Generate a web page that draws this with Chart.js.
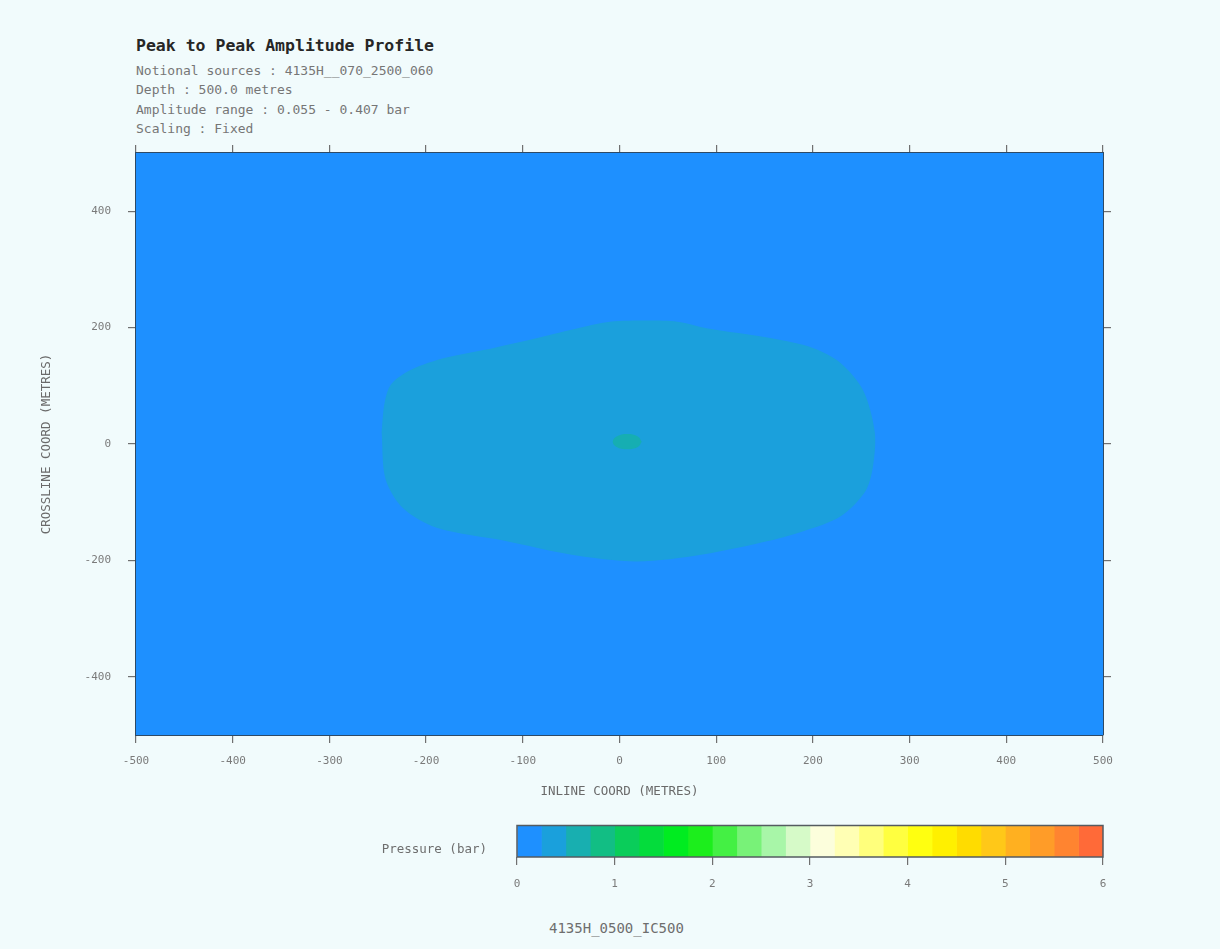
<!DOCTYPE html>
<html>
<head>
<meta charset="utf-8">
<script src="https://cdn.jsdelivr.net/npm/chart.js@4.4.1/dist/chart.umd.min.js"></script>
<style>
  html, body { margin: 0; padding: 0; background: #F1FBFC; }
  body { width: 1220px; height: 949px; position: relative; overflow: hidden; font-family: "DejaVu Sans Mono", monospace; }
  #main { position: absolute; left: 0; top: 0; }
  #cbar { position: absolute; left: 0; top: 788px; }
  .title { position: absolute; left: 136px; top: 37px; font-size: 16.5px; line-height: 18px; font-weight: bold; color: #262626; white-space: pre; }
  .sub { position: absolute; left: 136px; top: 61px; font-size: 13px; line-height: 19.4px; color: #767676; white-space: pre; }
  .foot { position: absolute; left: 549px; top: 919px; font-size: 14px; line-height: 18px; color: #6e6e6e; white-space: pre; }
</style>
</head>
<body>
<div class="title">Peak to Peak Amplitude Profile</div>
<div class="sub">Notional sources : 4135H__070_2500_060
Depth : 500.0 metres
Amplitude range : 0.055 - 0.407 bar
Scaling : Fixed</div>
<canvas id="main" width="1220" height="800"></canvas>
<canvas id="cbar" width="1220" height="112"></canvas>
<div class="foot">4135H_0500_IC500</div>
<script>
// ---- data ----
const inlineTicks = [-500, -400, -300, -200, -100, 0, 100, 200, 300, 400, 500];
const crosslineTicks = [-400, -200, 0, 200, 400];
const axisMin = -500;
const axisMax = 500;

// outline of the 0.25-0.5 bar amplitude zone (inline, crossline in metres)
const contourInline    = [-246, -243, -236, -215, -180, -130, -85, -40, -10, 30, 60, 90, 156, 200, 228, 252, 264, 262, 254, 228, 190, 156, 86, 18, -51, -120, -189, -224, -242, -246];
const contourCrossline = [20, 70, 103, 128, 148, 165, 182, 200, 210, 212, 210, 199, 182, 165, 140, 92, 20, -40, -82, -125, -150, -166, -190, -202, -190, -166, -144, -110, -60, 20];

// small central spot (0.5-0.75 bar)
const spotInline    = [23, 19, 8, -3, -7, -3, 8, 19, 23];
const spotCrossline = [4, 13, 17, 13, 4, -5, -9, -5, 4];

// colour bar
const pressureTicks = [0, 1, 2, 3, 4, 5, 6];
const bandEdges = [0, 0.25, 0.5, 0.75, 1, 1.25, 1.5, 1.75, 2, 2.25, 2.5, 2.75, 3, 3.25, 3.5, 3.75, 4, 4.25, 4.5, 4.75, 5, 5.25, 5.5, 5.75, 6];
const bandColors = ['#1E90FF', '#1AA0DC', '#18AFB0', '#12BE84', '#0ACD5A', '#04DC3C', '#00EC20', '#1CEE1C', '#44F044', '#78F278', '#A8F6A8', '#D6FAC8',
                    '#FCFEDC', '#FFFFB4', '#FFFF7C', '#FFFF40', '#FFFF10', '#FFF000', '#FFDC00', '#FFC818', '#FFB020', '#FF9C28', '#FF8430', '#FF6A38'];
const pressureLabel = 'Pressure (bar)';

// ---- helpers ----
const FONT = '"DejaVu Sans Mono", monospace';
const toPoints = (xs, ys) => xs.map((x, i) => ({ x: x, y: ys[i] }));
const setTicks = (vals) => (scale) => { scale.ticks = vals.map(v => ({ value: v })); };

const plotBg = {
  id: 'plotBg',
  beforeDatasetsDraw(chart) {
    const { ctx, chartArea: a } = chart;
    ctx.save();
    ctx.fillStyle = '#1E90FF';
    ctx.fillRect(a.left, a.top, a.right - a.left, a.bottom - a.top);
    ctx.restore();
  }
};

const edgeGrid = { drawOnChartArea: false, drawTicks: true, tickLength: 8, color: '#707070', lineWidth: 1.2 };
const edgeBorder = { display: true, color: '#2E4A66', width: 2 };
const tickFont = { family: FONT, size: 11 };

new Chart(document.getElementById('main'), {
  type: 'scatter',
  data: {
    datasets: [
      {
        data: toPoints(contourInline, contourCrossline),
        showLine: true, fill: 'shape', tension: 0.3, order: 2,
        borderWidth: 0, borderColor: 'rgba(0,0,0,0)',
        backgroundColor: '#1BA0DC', pointRadius: 0
      },
      {
        data: toPoints(spotInline, spotCrossline),
        showLine: true, fill: 'shape', tension: 0.4, order: 1,
        borderWidth: 0, borderColor: 'rgba(0,0,0,0)',
        backgroundColor: '#16AEB2', pointRadius: 0
      }
    ]
  },
  options: {
    responsive: false, animation: false,
    layout: { padding: { left: 35, right: 0, top: 0, bottom: 0 } },
    plugins: { legend: { display: false }, tooltip: { enabled: false } },
    scales: {
      x: {
        type: 'linear', position: 'bottom', min: axisMin, max: axisMax,
        afterBuildTicks: setTicks(inlineTicks),
        afterFit: (s) => { s.height = 65; },
        grid: edgeGrid, border: edgeBorder,
        ticks: { color: '#7a7a7a', font: tickFont, padding: 12, maxRotation: 0 },
        title: { display: true, text: 'INLINE COORD (METRES)', color: '#6a6a6a', font: { family: FONT, size: 12.5 }, padding: { top: 4, bottom: 1 } }
      },
      x2: {
        type: 'linear', position: 'top', min: axisMin, max: axisMax,
        afterBuildTicks: setTicks(inlineTicks),
        afterFit: (s) => { s.height = 153; },
        grid: edgeGrid, border: edgeBorder,
        ticks: { display: false }
      },
      y: {
        type: 'linear', position: 'left', min: axisMin, max: axisMax,
        afterBuildTicks: setTicks(crosslineTicks),
        afterFit: (s) => { s.width = 101; },
        grid: edgeGrid, border: edgeBorder,
        ticks: { color: '#7a7a7a', font: tickFont, padding: 17 },
        title: { display: true, text: 'CROSSLINE COORD (METRES)', color: '#6a6a6a', font: { family: FONT, size: 12.5 }, padding: { top: 4, bottom: 4 } }
      },
      y2: {
        type: 'linear', position: 'right', min: axisMin, max: axisMax,
        afterBuildTicks: setTicks(crosslineTicks),
        afterFit: (s) => { s.width = 117; },
        grid: edgeGrid, border: edgeBorder,
        ticks: { display: false }
      }
    }
  },
  plugins: [plotBg]
});

// ---- colour bar ----
const barOutline = {
  id: 'barOutline',
  afterDatasetsDraw(chart) {
    const { ctx, chartArea: a } = chart;
    ctx.save();
    ctx.strokeStyle = '#555b60';
    ctx.lineWidth = 1.5;
    ctx.strokeRect(a.left, a.top, a.right - a.left, a.bottom - a.top);
    ctx.restore();
  }
};

new Chart(document.getElementById('cbar'), {
  type: 'bar',
  data: {
    labels: [pressureLabel],
    datasets: bandColors.map((c, i) => ({
      data: [[bandEdges[i], bandEdges[i + 1]]],
      backgroundColor: c, borderWidth: 0,
      grouped: false, barPercentage: 1, categoryPercentage: 1
    }))
  },
  options: {
    indexAxis: 'y',
    responsive: false, animation: false,
    layout: { padding: { left: 0, right: 117, top: 20, bottom: 0 } },
    plugins: { legend: { display: false }, tooltip: { enabled: false } },
    scales: {
      x: {
        type: 'linear', position: 'bottom', min: 0, max: 6,
        afterBuildTicks: setTicks(pressureTicks),
        afterFit: (s) => { s.height = 43; },
        grid: { drawOnChartArea: false, drawTicks: true, tickLength: 8, color: '#707070', lineWidth: 1.2 },
        border: { display: false },
        ticks: { color: '#7a7a7a', font: tickFont, padding: 13 }
      },
      y: {
        type: 'category', position: 'left',
        afterFit: (s) => { s.width = 517; },
        grid: { display: false, drawTicks: false },
        border: { display: false },
        ticks: { color: '#6e6e6e', font: { family: FONT, size: 12.5 }, padding: 30, labelOffset: 8 }
      }
    }
  },
  plugins: [barOutline]
});
</script>
</body>
</html>
